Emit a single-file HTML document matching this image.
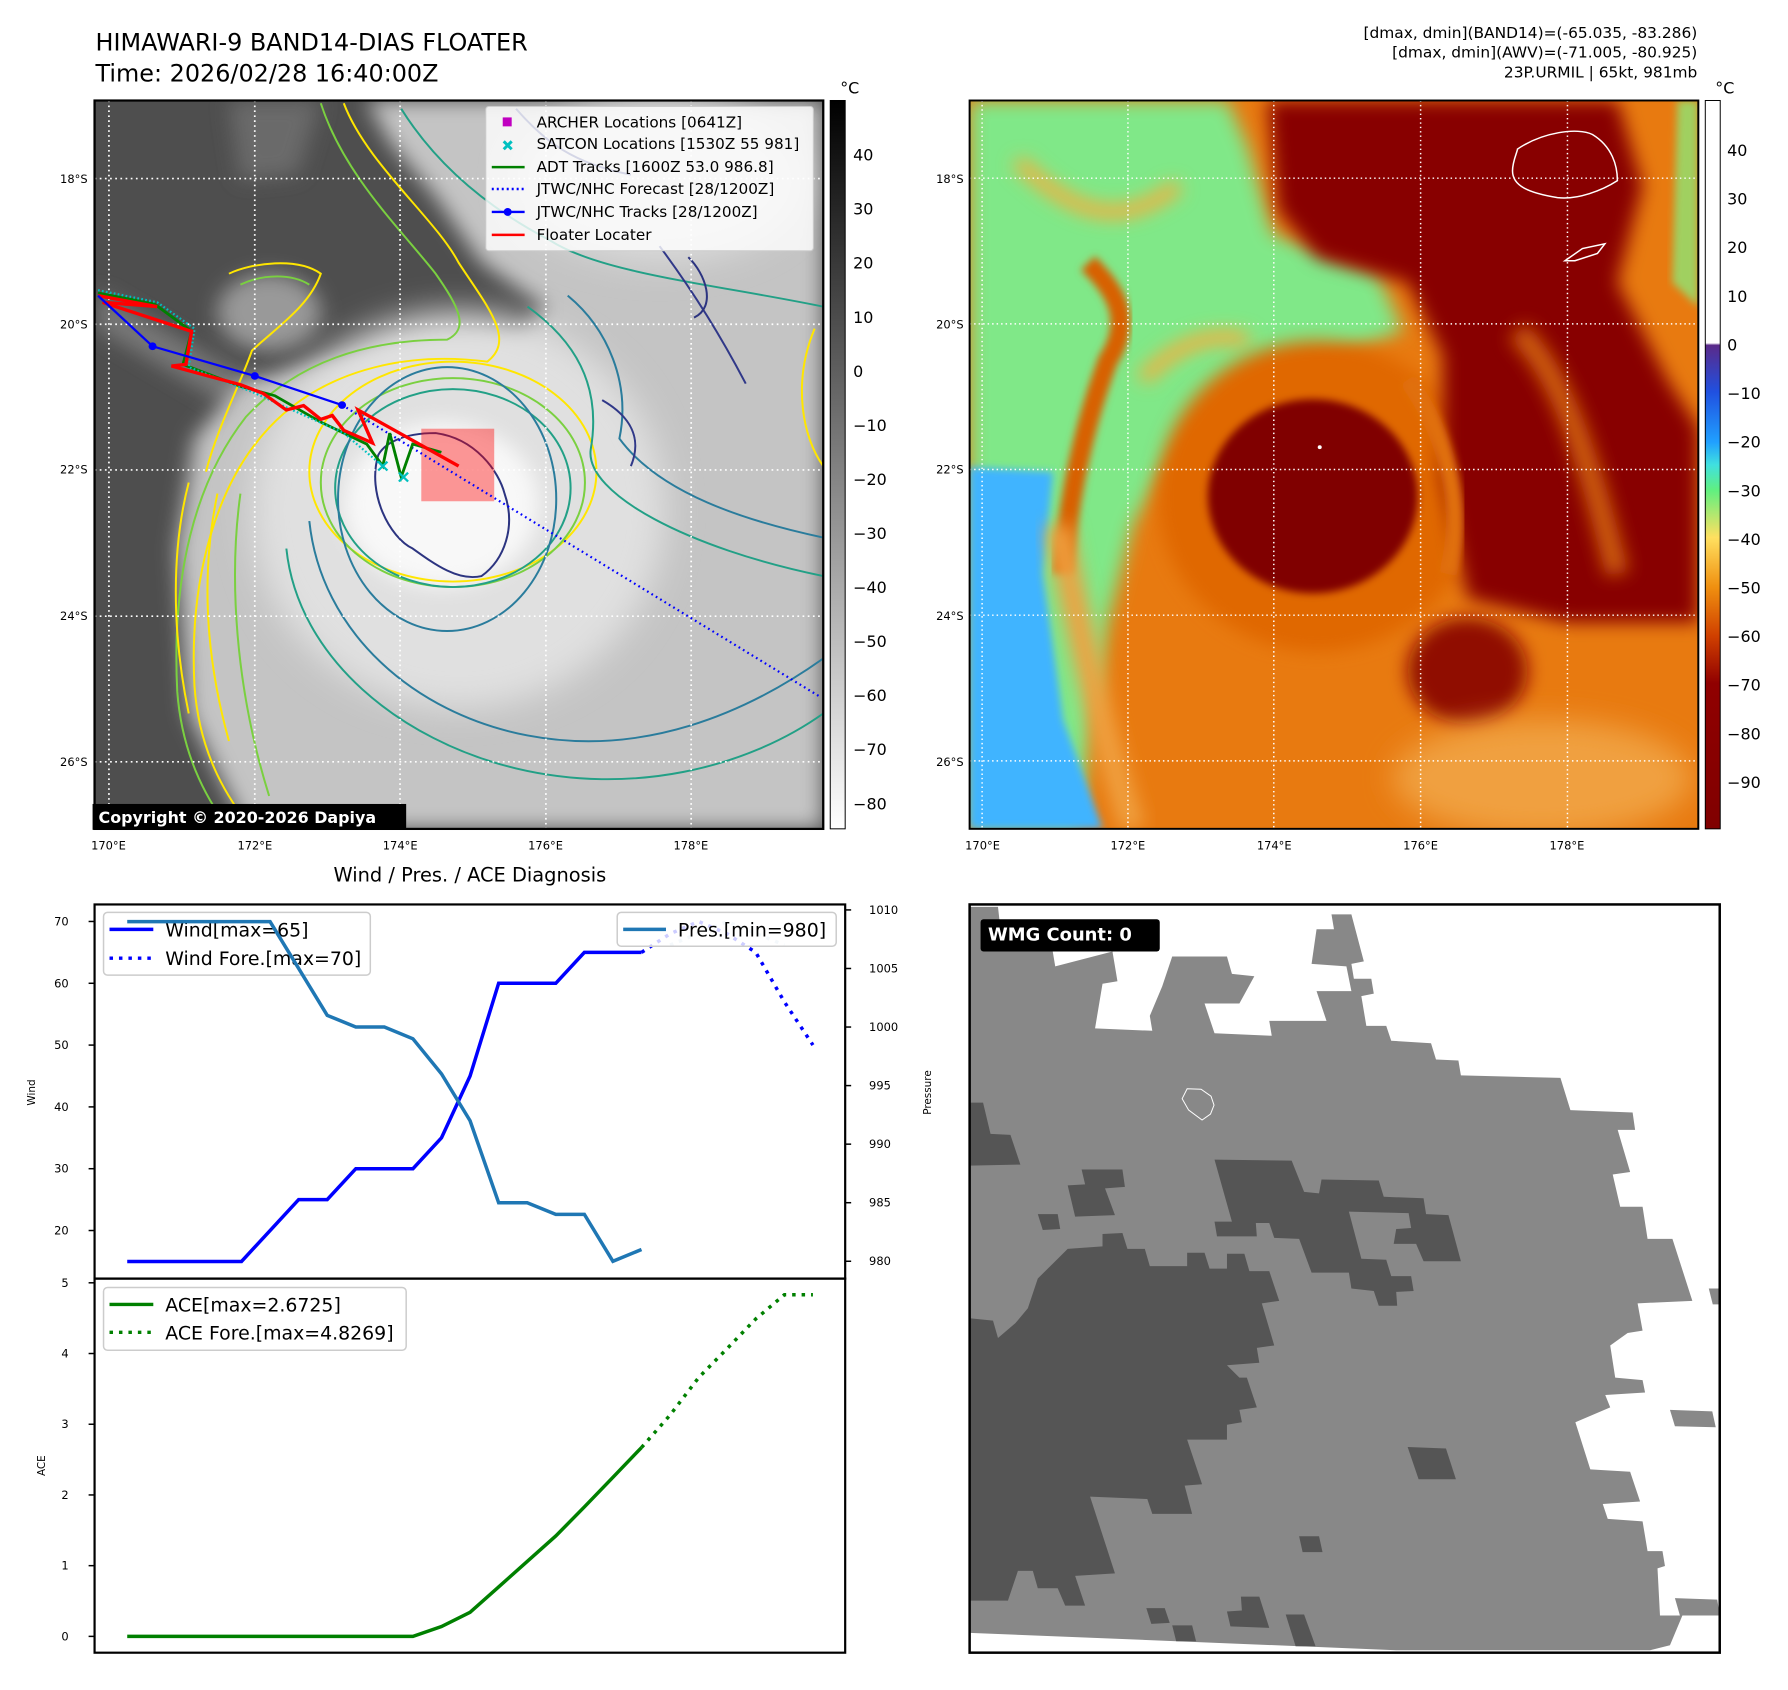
<!DOCTYPE html>
<html><head><meta charset="utf-8">
<style>
html,body{margin:0;padding:0;background:#fff;}
svg{display:block;}
text{font-family:"DejaVu Sans","Liberation Sans",sans-serif;}
</style></head>
<body>
<svg id="root" xmlns="http://www.w3.org/2000/svg" width="1788" height="1690" viewBox="0 0 1788 1690">
<defs>
  <filter id="b8" x="-20%" y="-20%" width="140%" height="140%"><feGaussianBlur stdDeviation="8"/></filter>
  <filter id="b18" x="-30%" y="-30%" width="160%" height="160%"><feGaussianBlur stdDeviation="18"/></filter>
  <filter id="b30" x="-30%" y="-30%" width="160%" height="160%"><feGaussianBlur stdDeviation="30"/></filter>
  <clipPath id="clip1"><rect x="166" y="185" width="1269" height="1325"/></clipPath>
  <clipPath id="clip2"><rect x="3" y="25" width="1459" height="1500"/></clipPath>
  <clipPath id="clip3"><rect x="3" y="5" width="1507" height="1510"/></clipPath>
  <linearGradient id="cb1" x1="0" y1="0" x2="0" y2="1">
    <stop offset="0" stop-color="#000"/><stop offset="1" stop-color="#fff"/>
  </linearGradient>
  <linearGradient id="cb2" x1="0" y1="0" x2="0" y2="1">
    <stop offset="0" stop-color="#fff"/><stop offset="0.333" stop-color="#fff"/>
    <stop offset="0.336" stop-color="#5a2a8a"/><stop offset="0.40" stop-color="#2050e0"/>
    <stop offset="0.469" stop-color="#20a0ff"/><stop offset="0.50" stop-color="#40e0e0"/>
    <stop offset="0.535" stop-color="#60f080"/><stop offset="0.60" stop-color="#ffe060"/>
    <stop offset="0.668" stop-color="#f09010"/><stop offset="0.735" stop-color="#d04000"/>
    <stop offset="0.80" stop-color="#900000"/><stop offset="1" stop-color="#800000"/>
  </linearGradient>
</defs>
<g transform="scale(0.9955,0.995)">
<!-- Titles -->
<text x="96" y="51" font-size="24">HIMAWARI-9 BAND14-DIAS FLOATER</text>
<text x="96" y="82" font-size="24">Time: 2026/02/28 16:40:00Z</text>
<g font-size="15.5" text-anchor="end">
  <text x="1705" y="38">[dmax, dmin](BAND14)=(-65.035, -83.286)</text>
  <text x="1705" y="58">[dmax, dmin](AWV)=(-71.005, -80.925)</text>
  <text x="1705" y="78">23P.URMIL | 65kt, 981mb</text>
</g>

<!-- MAP 1 -->
<g transform="translate(-0.75,-1.2) scale(0.5768,0.5525)">
  <g clip-path="url(#clip1)">
    <rect x="166" y="185" width="1269" height="1325" fill="#4e4e4e"/>
    <path d="M170 530 L600 790 L560 840 L170 600 Z" fill="#777" filter="url(#b18)"/>
    <ellipse cx="470" cy="570" rx="90" ry="70" fill="#999" filter="url(#b18)"/>
    <path d="M400 185 L560 185 L520 320 L420 330 Z" fill="#6a6a6a" filter="url(#b18)"/>
    <path d="M640 185 L1435 185 L1435 1510 L430 1510 L330 1300 L310 1000 L340 800 L420 700 L560 660 L700 640 L900 620 L950 560 L840 480 L760 360 L680 260 Z" fill="#c4c4c4" filter="url(#b18)"/>
    <ellipse cx="1150" cy="330" rx="250" ry="150" fill="#dadada" filter="url(#b30)"/>
    <ellipse cx="800" cy="930" rx="360" ry="360" fill="#e0e0e0" filter="url(#b30)"/>
    <ellipse cx="770" cy="920" rx="170" ry="150" fill="#f8f8f8" filter="url(#b18)"/>
    <!-- contours -->
    <g fill="none" stroke-width="3.5">
      <path d="M600 190 C640 300 760 400 800 480 C850 560 900 620 850 660 C700 640 560 680 470 780 C380 880 330 1050 340 1250 C350 1400 420 1480 440 1510" stroke="#ffe600"/>
      <path d="M560 190 C600 320 700 420 760 500 C800 560 820 600 780 620 C640 620 520 660 430 760 C340 880 300 1050 310 1260 C320 1400 380 1480 400 1510" stroke="#7ad040"/>
      <path d="M400 500 C440 480 520 470 560 500 C540 560 480 600 440 640 C420 700 380 780 360 860" stroke="#ffe600"/>
      <path d="M420 520 C460 500 510 500 540 520" stroke="#7ad040"/>
      <path d="M330 880 C300 1000 300 1150 330 1300 M380 900 C350 1050 360 1200 400 1350" stroke="#ffe600"/>
      <path d="M420 900 C400 1050 410 1250 470 1450" stroke="#7ad040"/>
      <ellipse cx="790" cy="860" rx="250" ry="200" stroke="#ffe600"/>
      <ellipse cx="790" cy="880" rx="230" ry="190" stroke="#7ad040"/>
      <ellipse cx="790" cy="890" rx="205" ry="180" stroke="#22a086"/>
      <ellipse cx="780" cy="910" rx="190" ry="240" stroke="#2a7c9c"/>
      <path d="M500 1000 C520 1200 700 1350 900 1400 C1100 1450 1300 1400 1435 1300" stroke="#22a086"/>
      <path d="M540 950 C560 1150 720 1300 920 1340 C1120 1380 1300 1300 1435 1200" stroke="#2a7c9c"/>
      <path d="M920 560 C1000 620 1050 700 1030 820 C1020 900 1200 1000 1435 1050" stroke="#22a086"/>
      <path d="M990 540 C1060 600 1100 700 1080 800 C1150 900 1300 950 1435 980" stroke="#2a7c9c"/>
      <path d="M700 200 C760 300 850 380 960 440 C1050 500 1250 520 1435 560" stroke="#22a086"/>
      <path d="M1150 450 C1200 520 1250 600 1300 700 M1050 730 C1100 760 1120 800 1100 850" stroke="#303888"/>
      <path d="M660 830 C640 900 680 980 720 1000 C760 1030 800 1060 840 1050 C880 1020 900 960 880 900 C870 860 830 800 760 790 C700 790 670 810 660 830 Z" stroke="#2c3480"/>
      <path d="M900 200 C950 260 1000 300 1100 320 M1200 470 C1230 500 1250 560 1210 580" stroke="#2c3480"/>
      <path d="M1420 600 C1380 700 1400 800 1435 850" stroke="#ffe600"/>
    </g>
    <!-- gridlines -->
    <g stroke="#fff" stroke-width="3" stroke-dasharray="3 6">
      <line x1="191" y1="185" x2="191" y2="1510"/><line x1="445" y1="185" x2="445" y2="1510"/>
      <line x1="698" y1="185" x2="698" y2="1510"/><line x1="952" y1="185" x2="952" y2="1510"/>
      <line x1="1205" y1="185" x2="1205" y2="1510"/>
      <line x1="166" y1="327" x2="1435" y2="327"/><line x1="166" y1="592" x2="1435" y2="592"/>
      <line x1="166" y1="857" x2="1435" y2="857"/><line x1="166" y1="1123" x2="1435" y2="1123"/>
      <line x1="166" y1="1388" x2="1435" y2="1388"/>
    </g>
    <!-- tracks -->
    <rect x="735" y="782" width="127" height="132" fill="#ff0000" opacity="0.4"/>
    <polyline points="597,739 1430,1270" fill="none" stroke="#0000ff" stroke-width="4" stroke-dasharray="3 6"/>
    <polyline points="172,535 270,555 335,605 320,665 420,705 480,722 560,770 640,810 668,850 680,790 700,870 720,810 770,825" fill="none" stroke="#008000" stroke-width="5"/>
    <polyline points="172,530 275,552 340,600 330,670 440,715 600,790 668,850" fill="none" stroke="#00c0c0" stroke-width="4" stroke-dasharray="3 4"/>
    <g stroke="#00c0c0" stroke-width="4"><path d="M660 842 l16 16 M676 842 l-16 16 M696 862 l16 16 M712 862 l-16 16"/></g>
    <polyline points="172,540 275,560 180,552 335,605 325,665 300,668 420,702 460,718 500,748 530,740 560,765 580,758 600,785 650,808 625,748 800,850" fill="none" stroke="#ff0000" stroke-width="6"/>
    <polyline points="172,540 267,632 445,686 597,739" fill="none" stroke="#0000ff" stroke-width="4"/>
    <g fill="#0000ff"><circle cx="267" cy="632" r="7"/><circle cx="445" cy="686" r="7"/><circle cx="597" cy="739" r="7"/></g>
  </g>
  <rect x="166" y="185" width="1269" height="1325" fill="none" stroke="#000" stroke-width="4"/>
</g>
<g>
  <rect x="93" y="808" width="315" height="26" fill="#000"/>
  <text x="99" y="827" font-size="16" font-weight="bold" fill="#fff">Copyright © 2020-2026 Dapiya</text>
</g>
<!-- map1 legend -->
<g>
  <rect x="488" y="107" width="329" height="145" rx="3" fill="#fff" fill-opacity="0.8" stroke="#ccc"/>
  <rect x="505" y="118" width="9" height="9" fill="#c000c0"/>
  <path d="M506 142 l8 8 M514 142 l-8 8" stroke="#00c0c0" stroke-width="3"/>
  <line x1="494" y1="168" x2="527" y2="168" stroke="#008000" stroke-width="2.5"/>
  <line x1="494" y1="190" x2="527" y2="190" stroke="#0000ff" stroke-width="2.5" stroke-dasharray="2 3"/>
  <line x1="494" y1="213" x2="527" y2="213" stroke="#0000ff" stroke-width="2.5"/><circle cx="510" cy="213" r="4" fill="#0000ff"/>
  <line x1="494" y1="236" x2="527" y2="236" stroke="#ff0000" stroke-width="2.5"/>
  <g font-size="15.3">
    <text x="539" y="128">ARCHER Locations [0641Z]</text>
    <text x="539" y="150">SATCON Locations [1530Z 55 981]</text>
    <text x="539" y="173">ADT Tracks [1600Z 53.0 986.8]</text>
    <text x="539" y="195">JTWC/NHC Forecast [28/1200Z]</text>
    <text x="539" y="218">JTWC/NHC Tracks [28/1200Z]</text>
    <text x="539" y="241">Floater Locater</text>
  </g>
</g>
<!-- map1 ticks -->
<g font-size="11.5" text-anchor="end">
  <text x="88" y="184">18°S</text><text x="88" y="330">20°S</text><text x="88" y="476">22°S</text><text x="88" y="623">24°S</text><text x="88" y="770">26°S</text>
</g>
<g font-size="11.5" text-anchor="middle">
  <text x="109" y="854">170°E</text><text x="256" y="854">172°E</text><text x="402" y="854">174°E</text><text x="548" y="854">176°E</text><text x="694" y="854">178°E</text>
</g>
<!-- colorbar 1 -->
<g>
  <rect x="834" y="101" width="15" height="732" fill="url(#cb1)" stroke="#000" stroke-width="1"/>
  <text x="844" y="94" font-size="16">°C</text>
  <g font-size="16" id="cb1labels"></g>
</g>

<!-- MAP 2 -->
<g transform="translate(972.5,88.8) scale(0.5017,0.488)">
  <g clip-path="url(#clip2)">
    <rect x="3" y="25" width="1459" height="1500" fill="#e87a10"/>
    <path d="M3 25 L520 25 L560 120 L610 300 L820 380 L870 500 L700 560 L560 620 L450 700 L380 800 L330 900 L280 1100 L250 1300 L220 1525 L3 1525 Z" fill="#80e888" filter="url(#b18)"/>
    <path d="M3 780 L170 790 L150 1000 L190 1300 L270 1525 L3 1525 Z" fill="#40b4ff" filter="url(#b8)"/>
    <path d="M240 360 C300 420 330 480 280 560 C230 700 200 850 190 1000" stroke="#d86000" stroke-width="40" fill="none" filter="url(#b8)"/>
    <path d="M100 150 C200 250 300 300 420 200 M350 600 C420 520 500 500 560 520" stroke="#f0b040" stroke-width="30" fill="none" filter="url(#b18)"/>
    <path d="M180 900 C220 1100 260 1300 330 1525" stroke="#f0a040" stroke-width="50" fill="none" filter="url(#b18)"/>
    <ellipse cx="700" cy="840" rx="320" ry="320" fill="#e06800" filter="url(#b18)"/>
    <path d="M600 25 L1300 25 L1350 200 L1300 400 L1400 600 L1462 700 L1462 1100 L1200 1100 L1000 1050 L950 800 L950 550 L880 400 L700 350 L620 250 Z" fill="#880400" filter="url(#b18)"/>
    <path d="M880 600 C950 700 1000 850 960 1000" stroke="#e07010" stroke-width="35" fill="none" filter="url(#b8)"/>
    <path d="M1100 500 C1200 600 1250 800 1300 1000" stroke="#d06010" stroke-width="45" fill="none" filter="url(#b18)"/>
    <path d="M1420 25 L1462 25 L1462 450 L1410 400 Z" fill="#a0d060" filter="url(#b8)"/>
    <ellipse cx="690" cy="840" rx="210" ry="200" fill="#800000" filter="url(#b8)"/>
    <ellipse cx="1000" cy="1200" rx="120" ry="110" fill="#900800" filter="url(#b18)"/>
    <ellipse cx="1150" cy="1420" rx="300" ry="120" fill="#f0a040" filter="url(#b30)"/>
    <path d="M1100 125 C1150 90 1220 80 1250 95 C1290 120 1300 160 1300 190 C1270 210 1220 230 1180 225 C1120 215 1090 200 1090 170 C1090 150 1100 130 1100 125 Z M1195 355 L1230 330 L1275 320 L1260 340 L1215 355 Z" fill="none" stroke="#fff" stroke-width="3"/>
    <circle cx="704" cy="739" r="4" fill="#fff"/>
    <g stroke="#fff" stroke-width="3" stroke-dasharray="3 6">
      <line x1="28" y1="25" x2="28" y2="1525"/><line x1="320" y1="25" x2="320" y2="1525"/>
      <line x1="612" y1="25" x2="612" y2="1525"/><line x1="906" y1="25" x2="906" y2="1525"/>
      <line x1="1200" y1="25" x2="1200" y2="1525"/>
      <line x1="3" y1="185" x2="1462" y2="185"/><line x1="3" y1="485" x2="1462" y2="485"/>
      <line x1="3" y1="785" x2="1462" y2="785"/><line x1="3" y1="1085" x2="1462" y2="1085"/>
      <line x1="3" y1="1385" x2="1462" y2="1385"/>
    </g>
  </g>
  <rect x="3" y="25" width="1459" height="1500" fill="none" stroke="#000" stroke-width="4"/>
</g>
<g font-size="11.5" text-anchor="end">
  <text x="968" y="184">18°S</text><text x="968" y="330">20°S</text><text x="968" y="476">22°S</text><text x="968" y="623">24°S</text><text x="968" y="770">26°S</text>
</g>
<g font-size="11.5" text-anchor="middle">
  <text x="987" y="854">170°E</text><text x="1133" y="854">172°E</text><text x="1280" y="854">174°E</text><text x="1427" y="854">176°E</text><text x="1574" y="854">178°E</text>
</g>
<g>
  <rect x="1713" y="101" width="15" height="732" fill="url(#cb2)" stroke="#000" stroke-width="1"/>
  <text x="1723" y="94" font-size="16">°C</text>
  <g font-size="16" id="cb2labels"></g>
</g>

<!-- CHART -->
<text x="472" y="886" font-size="19.5" text-anchor="middle">Wind / Pres. / ACE Diagnosis</text>
<g id="chart"></g>

<!-- WMG panel -->
<g transform="translate(972.5,906.5) scale(0.5,0.498)">
  <g clip-path="url(#clip3)">
    <rect x="3" y="5" width="1507" height="1510" fill="#fff"/>
    <path fill="#888" d="M3 10 L60 10 L70 100 L170 100 L175 130 L290 100 L300 160 L270 165 L255 255 L370 260 L365 230 L390 170 L410 110 L520 110 L530 145 L575 150 L545 205 L475 205 L495 265 L610 270 L605 240 L720 240 L700 180 L770 180 L760 130 L690 125 L700 55 L735 55 L730 25 L770 25 L795 120 L770 125 L775 155 L810 155 L815 185 L790 190 L800 250 L840 250 L850 280 L930 285 L940 318 L985 320 L990 350 L1190 355 L1210 420 L1335 425 L1340 460 L1305 460 L1330 545 L1295 550 L1310 615 L1355 615 L1365 680 L1415 680 L1455 805 L1345 810 L1355 865 L1325 870 L1290 895 L1300 960 L1355 965 L1360 990 L1280 995 L1290 1020 L1220 1050 L1250 1145 L1330 1150 L1350 1210 L1275 1215 L1285 1245 L1355 1250 L1365 1310 L1395 1310 L1400 1340 L1385 1345 L1390 1440 L1435 1440 L1410 1500 L1370 1510 L860 1510 L3 1475 Z"/>
    <path fill="#888" d="M1410 1025 L1495 1028 L1502 1060 L1420 1058 Z M1488 780 L1510 780 L1510 812 L1496 812 Z M1420 1405 L1505 1408 L1510 1440 L1430 1440 Z"/>
    <g fill="#555">
      <path d="M3 840 L50 845 L60 880 L95 850 L120 820 L140 760 L170 730 L200 700 L270 695 L270 670 L310 668 L320 700 L355 700 L365 735 L440 735 L440 708 L475 708 L485 740 L520 740 L520 710 L555 710 L565 745 L605 745 L625 805 L590 810 L615 895 L580 900 L585 930 L520 935 L545 960 L560 960 L580 1020 L545 1025 L550 1050 L520 1055 L520 1085 L440 1085 L470 1175 L435 1178 L450 1235 L370 1235 L360 1205 L245 1200 L295 1355 L215 1360 L235 1420 L195 1420 L180 1385 L140 1385 L130 1350 L100 1350 L80 1410 L3 1410 Z"/>
      <path d="M495 520 L650 522 L675 585 L705 588 L710 560 L825 562 L835 595 L915 598 L920 630 L965 632 L990 725 L915 725 L900 690 L855 690 L860 660 L890 658 L885 628 L765 625 L790 720 L840 722 L850 755 L890 755 L895 785 L860 787 L862 815 L825 815 L815 785 L770 780 L765 748 L690 748 L665 680 L615 678 L605 648 L578 648 L580 675 L500 675 L495 645 L530 645 Z"/>
      <path d="M3 405 L30 405 L45 468 L85 470 L105 530 L3 532 Z"/>
      <path d="M228 540 L310 540 L315 575 L275 578 L295 632 L215 635 L200 572 L235 570 Z"/>
      <path d="M140 630 L180 630 L185 660 L150 662 Z"/>
      <path d="M883 1100 L960 1103 L980 1165 L905 1165 Z"/>
      <path d="M665 1280 L705 1280 L712 1312 L672 1312 Z"/>
      <path d="M358 1425 L395 1425 L405 1455 L368 1457 Z M410 1460 L450 1460 L458 1492 L418 1492 Z M520 1432 L550 1430 L548 1402 L585 1402 L605 1465 L527 1462 Z M638 1438 L675 1438 L698 1502 L658 1502 Z"/>
    </g>
    <path d="M440 377 L468 378 L488 392 L494 410 L487 428 L470 440 L443 420 L430 397 Z" fill="none" stroke="#fff" stroke-width="2"/>
  </g>
  <rect x="3" y="5" width="1507" height="1510" fill="none" stroke="#000" stroke-width="5"/>
  <rect x="25" y="35" width="360" height="65" rx="6" fill="#000"/>
  <text x="40" y="78" font-size="36" font-weight="bold" fill="#fff">WMG Count: 0</text>
</g>
</g>

<script>
// ---- chart data ----
const windObs = [15,15,15,15,15,20,25,25,30,30,30,35,45,60,60,60,65,65,65];
const windFore = [65,68,70,68,65,57,50];
const presObs = [1009,1009,1009,1009,1009,1009,1005,1001,1000,1000,999,996,992,985,985,984,984,980,981];
const presFore = [1007,1008,1009,1008,1007];
const aceObs = [0,0,0,0,0,0,0,0,0,0,0,0.14,0.34,0.7,1.06,1.42,1.83,2.25,2.67];
const aceFore = [2.67,3.13,3.66,4.07,4.49,4.83,4.83];
const windTicks = [20,30,40,50,60,70];
const presTicks = [980,985,990,995,1000,1005,1010];
const aceTicks = [0,1,2,3,4,5];
const cbIrTicks = [40,30,20,10,0,-10,-20,-30,-40,-50,-60,-70,-80];
const cbAwvTicks = [40,30,20,10,0,-10,-20,-30,-40,-50,-60,-70,-80,-90];

const NS = 'http://www.w3.org/2000/svg';
function mk(tag, attrs, parent){ const e=document.createElementNS(NS,tag); for(const k in attrs) e.setAttribute(k,attrs[k]); parent.appendChild(e); return e; }
function lbl(v){ return v<0 ? '\u2212'+Math.abs(v) : String(v); }

const cb1 = document.getElementById('cb1labels');
cbIrTicks.forEach(v=>{
  const y = 155.9 + (40 - v)*5.433;
  const t = mk('text',{x:857,y:y+5.5},cb1); t.textContent = lbl(v);
  
  
});
const cb2 = document.getElementById('cb2labels');
cbAwvTicks.forEach(v=>{
  const y = 151.3 + (40 - v)*4.885;
  const t = mk('text',{x:1735,y:y+5.5},cb2); t.textContent = lbl(v);
  
  
});

const X0 = 127.8, DX = 28.7;
const xi = i => X0 + i*DX;
const yW = v => 1236.7 - (v-20)*6.212;
const yP = p => 1267.6 - (p-980)*11.77;
const yA = a => 1644.6 - a*71.07;
const L = 95, R = 849, T = 909, M = 1285, B = 1661;

const g = document.getElementById('chart');
mk('rect',{x:L,y:T,width:R-L,height:B-T,fill:'#fff'},g);

function poly(vals, start, fy, attrs, name){
  const pts = vals.map((v,i)=> xi(start+i).toFixed(1)+','+fy(v).toFixed(1)).join(' ');
  const p = mk('polyline', Object.assign({points:pts, fill:'none'}, attrs), g);
  
  
  return p;
}
const nObs = windObs.length - 1;

poly(windObs, 0, yW, {stroke:'#0000ff','stroke-width':3.5}, 'wind-line');
poly(windFore, nObs, yW, {stroke:'#0000ff','stroke-width':3.5,'stroke-dasharray':'3.5 6'}, 'wind-forecast-line');
const wl = mk('g',{},g);


mk('rect',{x:104,y:917,width:268,height:63,rx:4,fill:'#fff','fill-opacity':0.8,stroke:'#ccc','stroke-width':1.5},wl);
mk('line',{x1:110,y1:934,x2:154,y2:934,stroke:'#0000ff','stroke-width':3.5},wl);
mk('line',{x1:110,y1:963,x2:154,y2:963,stroke:'#0000ff','stroke-width':3.5,'stroke-dasharray':'3.5 6'},wl);
let t = mk('text',{x:166,y:941,'font-size':19},wl); t.textContent='Wind[max=65]';
t = mk('text',{x:166,y:970,'font-size':19},wl); t.textContent='Wind Fore.[max=70]';

poly(presObs, 0, yP, {stroke:'#1f77b4','stroke-width':3.5}, 'pressure-line');
poly(presFore, nObs+1, yP, {stroke:'#1f77b4','stroke-width':3.5,'stroke-dasharray':'3.5 6','stroke-opacity':0.25}, 'pressure-forecast-line');
const pl = mk('g',{},g);


mk('rect',{x:620,y:917,width:220,height:34,rx:4,fill:'#fff','fill-opacity':0.8,stroke:'#ccc','stroke-width':1.5},pl);
mk('line',{x1:626,y1:934,x2:669,y2:934,stroke:'#1f77b4','stroke-width':3.5},pl);
t = mk('text',{x:681,y:941,'font-size':19},pl); t.textContent='Pres.[min=980]';

poly(aceObs, 0, yA, {stroke:'#008000','stroke-width':3.5}, 'ace-line');
poly(aceFore, nObs, yA, {stroke:'#008000','stroke-width':3.5,'stroke-dasharray':'3.5 6'}, 'ace-forecast-line');
const al = mk('g',{},g);


mk('rect',{x:104,y:1294,width:304,height:63,rx:4,fill:'#fff','fill-opacity':0.8,stroke:'#ccc','stroke-width':1.5},al);
mk('line',{x1:110,y1:1311,x2:154,y2:1311,stroke:'#008000','stroke-width':3.5},al);
mk('line',{x1:110,y1:1339,x2:154,y2:1339,stroke:'#008000','stroke-width':3.5,'stroke-dasharray':'3.5 6'},al);
t = mk('text',{x:166,y:1318,'font-size':19},al); t.textContent='ACE[max=2.6725]';
t = mk('text',{x:166,y:1346,'font-size':19},al); t.textContent='ACE Fore.[max=4.8269]';

mk('rect',{x:L,y:T,width:R-L,height:M-T,fill:'none',stroke:'#000','stroke-width':2.2},g);
mk('rect',{x:L,y:M,width:R-L,height:B-M,fill:'none',stroke:'#000','stroke-width':2.2},g);

windTicks.forEach(v=>{
  const y=yW(v);
  mk('line',{x1:L-6,y1:y,x2:L,y2:y,stroke:'#000','stroke-width':1.5},g);
  const tx=mk('text',{x:69,y:y+4,'font-size':11.5,'text-anchor':'end'},g); tx.textContent=v;
  
  
});
presTicks.forEach(v=>{
  const y=yP(v);
  mk('line',{x1:R,y1:y,x2:R+6,y2:y,stroke:'#000','stroke-width':1.5},g);
  const tx=mk('text',{x:873,y:y+4,'font-size':11.5},g); tx.textContent=v;
  
  
});
aceTicks.forEach(v=>{
  const y=yA(v);
  mk('line',{x1:L-6,y1:y,x2:L,y2:y,stroke:'#000','stroke-width':1.5},g);
  const tx=mk('text',{x:69,y:y+4,'font-size':11.5,'text-anchor':'end'},g); tx.textContent=v;
  
  
});
t = mk('text',{x:0,y:0,'font-size':10.5,'text-anchor':'middle',transform:'translate(35,1098) rotate(-90)'},g); t.textContent='Wind';


t = mk('text',{x:0,y:0,'font-size':10.5,'text-anchor':'middle',transform:'translate(935,1098) rotate(-90)'},g); t.textContent='Pressure';


t = mk('text',{x:0,y:0,'font-size':10.5,'text-anchor':'middle',transform:'translate(45,1473) rotate(-90)'},g); t.textContent='ACE';


</script>
</svg>
</body></html>
